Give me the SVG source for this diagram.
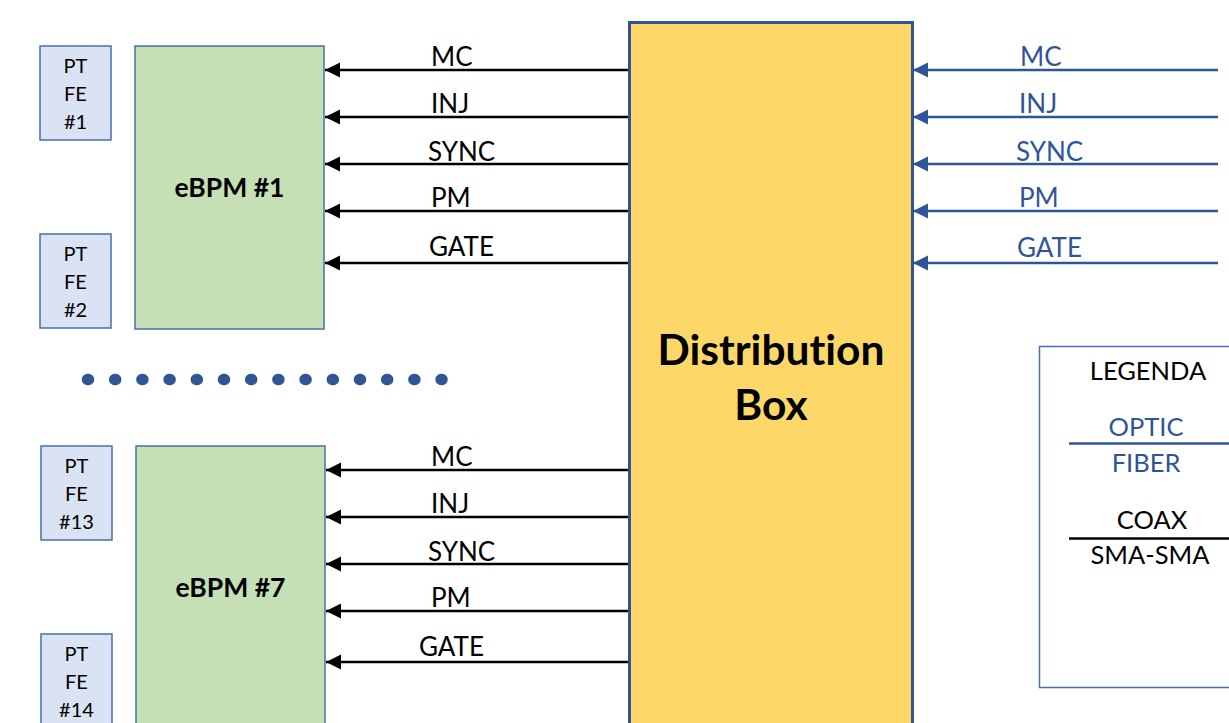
<svg xmlns="http://www.w3.org/2000/svg" width="1229" height="723" viewBox="0 0 1229 723">
  <style>
    text { font-family: Lato, "Open Sans", "Liberation Sans", sans-serif; fill: #000; font-variant-ligatures: none; }
    .fe rect { fill: #DAE3F3; stroke: #4A6EAE; stroke-width: 1.5; }
    .fe text { font-size: 20px; text-anchor: middle; }
    .bpm rect { fill: #C5E0B4; stroke: #4A6EAE; stroke-width: 1.5; }
    .bpm text { font-size: 26.5px; font-weight: bold; text-anchor: middle; }
    .sig { font-size: 26px; }
    .sig.blue { fill: #2F5597; }
    .leg { font-size: 25.5px; text-anchor: middle; }
    .leg.blue { fill: #2F5597; }
    .coax { stroke: #000; stroke-width: 2.5; fill: none; }
    .optic { stroke: #2F5597; stroke-width: 2.5; fill: none; }
  </style>
  <defs>
    <marker id="headBlack" markerUnits="userSpaceOnUse" markerWidth="16" markerHeight="16" refX="15" refY="7.5" orient="auto">
      <path d="M0,0 L15,7.5 L0,15 z" fill="#000"/>
    </marker>
    <marker id="headBlue" markerUnits="userSpaceOnUse" markerWidth="16" markerHeight="16" refX="15" refY="7.5" orient="auto">
      <path d="M0,0 L15,7.5 L0,15 z" fill="#2F5597"/>
    </marker>
  </defs>

  <rect width="1229" height="723" fill="#fff"/>

  <!-- front-end pickups -->
  <g id="pt-fe-1" class="fe">
    <rect x="40" y="46" width="71" height="94"/>
    <text x="75.5" y="73">PT</text><text x="75.5" y="101">FE</text><text x="75.5" y="129">#1</text>
  </g>
  <g id="pt-fe-2" class="fe">
    <rect x="40" y="234" width="71" height="94"/>
    <text x="75.5" y="261">PT</text><text x="75.5" y="289">FE</text><text x="75.5" y="317">#2</text>
  </g>
  <g id="pt-fe-13" class="fe">
    <rect x="41" y="446" width="71" height="94"/>
    <text x="76.5" y="473">PT</text><text x="76.5" y="501">FE</text><text x="76.5" y="529">#13</text>
  </g>
  <g id="pt-fe-14" class="fe">
    <rect x="41" y="634" width="71" height="100"/>
    <text x="76.5" y="661">PT</text><text x="76.5" y="689">FE</text><text x="76.5" y="717">#14</text>
  </g>

  <!-- BPM electronics -->
  <g id="ebpm-1" class="bpm">
    <rect x="135" y="46" width="189" height="283"/>
    <text x="229.5" y="197">eBPM #1</text>
  </g>
  <g id="ebpm-7" class="bpm">
    <rect x="136" y="446" width="189" height="290"/>
    <text x="230.5" y="597">eBPM #7</text>
  </g>

  <!-- ellipsis for the omitted units -->
  <g id="ellipsis">
    <line x1="87.5" y1="379.5" x2="442" y2="379.5" stroke="#2F5597" stroke-width="11.5" stroke-linecap="round" stroke-dasharray="1 26.2"/>
  </g>

  <!-- distribution box -->
  <g id="distribution-box">
    <rect x="629.5" y="22.5" width="283" height="720" fill="#FDD868" stroke="#2F5597" stroke-width="3"/>
    <text x="771" y="365" font-size="42.5" font-weight="bold" text-anchor="middle">Distribution</text>
    <text x="771" y="420" font-size="42.5" font-weight="bold" text-anchor="middle">Box</text>
  </g>

  <!-- legend -->
  <g id="legend">
    <rect x="1039.5" y="346.5" width="200" height="341" fill="#fff" stroke="#4A6EAE" stroke-width="1.5"/>
    <text class="leg" x="1148" y="380">LEGENDA</text>
    <text class="leg blue" x="1146" y="436">OPTIC</text>
    <line class="optic" x1="1069" y1="443.5" x2="1229" y2="443.5"/>
    <text class="leg blue" x="1146" y="472">FIBER</text>
    <text class="leg" x="1152" y="529">COAX</text>
    <line class="coax" x1="1069" y1="538.5" x2="1229" y2="538.5"/>
    <text class="leg" x="1150" y="564">SMA-SMA</text>
  </g>

  <!-- signal connectors -->
  <g id="connectors">
    <!-- optic fibre inputs -->
    <line class="optic" x1="1218" y1="70" x2="913" y2="70" marker-end="url(#headBlue)"/>
    <line class="optic" x1="1218" y1="117" x2="913" y2="117" marker-end="url(#headBlue)"/>
    <line class="optic" x1="1218" y1="164" x2="913" y2="164" marker-end="url(#headBlue)"/>
    <line class="optic" x1="1218" y1="211" x2="913" y2="211" marker-end="url(#headBlue)"/>
    <line class="optic" x1="1218" y1="263" x2="913" y2="263" marker-end="url(#headBlue)"/>
    <!-- coax to eBPM #1 -->
    <line class="coax" x1="628" y1="70" x2="325" y2="70" marker-end="url(#headBlack)"/>
    <line class="coax" x1="628" y1="117" x2="325" y2="117" marker-end="url(#headBlack)"/>
    <line class="coax" x1="628" y1="164" x2="325" y2="164" marker-end="url(#headBlack)"/>
    <line class="coax" x1="628" y1="211" x2="325" y2="211" marker-end="url(#headBlack)"/>
    <line class="coax" x1="628" y1="263" x2="325" y2="263" marker-end="url(#headBlack)"/>
    <!-- coax to eBPM #7 -->
    <line class="coax" x1="628" y1="470" x2="326" y2="470" marker-end="url(#headBlack)"/>
    <line class="coax" x1="628" y1="517" x2="326" y2="517" marker-end="url(#headBlack)"/>
    <line class="coax" x1="628" y1="564" x2="326" y2="564" marker-end="url(#headBlack)"/>
    <line class="coax" x1="628" y1="611" x2="326" y2="611" marker-end="url(#headBlack)"/>
    <line class="coax" x1="628" y1="662" x2="326" y2="662" marker-end="url(#headBlack)"/>
  </g>

  <!-- connector labels -->
  <g id="labels">
    <text class="sig" x="431" y="66">MC</text>
    <text class="sig" x="431" y="113">INJ</text>
    <text class="sig" x="428" y="161">SYNC</text>
    <text class="sig" x="431" y="207">PM</text>
    <text class="sig" x="429" y="256">GATE</text>

    <text class="sig" x="431" y="466">MC</text>
    <text class="sig" x="431" y="513">INJ</text>
    <text class="sig" x="428" y="561">SYNC</text>
    <text class="sig" x="431" y="607">PM</text>
    <text class="sig" x="419" y="656">GATE</text>

    <text class="sig blue" x="1020" y="66">MC</text>
    <text class="sig blue" x="1019" y="113">INJ</text>
    <text class="sig blue" x="1016" y="161">SYNC</text>
    <text class="sig blue" x="1019" y="207">PM</text>
    <text class="sig blue" x="1017" y="257">GATE</text>
  </g>
</svg>
